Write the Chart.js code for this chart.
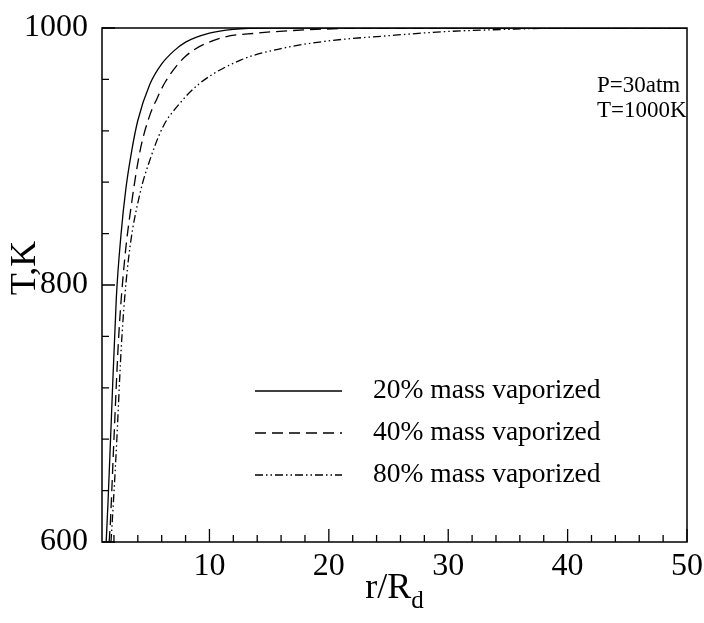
<!DOCTYPE html>
<html>
<head>
<meta charset="utf-8">
<script src="https://cdn.jsdelivr.net/npm/chart.js@4.4.1/dist/chart.umd.min.js"></script>
<style>
  html, body { margin: 0; padding: 0; background: #fff; }
  #wrap { width: 704px; height: 623px; }
</style>
</head>
<body>
<div id="wrap"><canvas id="tempChart"></canvas></div>
<script>
// gas temperature around the droplet, P=30atm, ambient 1000K
const r20 = [1.35, 1.5, 1.8, 2.2, 2.6, 3.0, 3.5, 4.0, 5.0, 6.0, 7.0, 8.0, 10, 12, 15, 20, 30, 40, 50];
const t20 = [600, 630, 700, 790, 840, 875, 905, 928, 956, 972, 982, 989, 996, 999, 1000, 1000, 1000, 1000, 1000];

const r40 = [1.6, 1.7, 2.0, 2.4, 2.9, 3.5, 4.2, 5.0, 5.6, 6.3, 8.0, 10.9, 14, 18, 24, 35, 50];
const t40 = [600, 615, 680, 760, 820, 865, 905, 932, 945, 958, 978, 992, 996, 998.5, 1000, 1000, 1000];

const r80 = [1.75, 1.8, 2.2, 2.6, 2.9, 3.35, 4.2, 5.0, 6.1, 7.3, 9.2, 12.6, 16, 20, 25, 29.4, 35, 40, 50];
const t80 = [600, 607, 672, 749, 790, 830, 872, 897, 923, 939, 957, 975, 984, 990, 994, 997, 999, 1000, 1000];

const seriesLabels = ['20% mass vaporized', '40% mass vaporized', '80% mass vaporized'];
const xTickLabels = [10, 20, 30, 40, 50];
const yTickLabels = [600, 800, 1000];

const SERIF = '"Liberation Serif", "DejaVu Serif", serif';

function toPoints(xs, ys) {
  return xs.map((x, i) => ({ x: x, y: ys[i] }));
}

// frame, inward tick marks, titles, note and legend
const decorations = {
  id: 'decorations',
  afterDraw(chart) {
    const { ctx, chartArea: a, scales: { x, y } } = chart;
    ctx.save();
    ctx.strokeStyle = '#000';
    ctx.lineWidth = 1.5;
    ctx.strokeRect(a.left, a.top, a.right - a.left, a.bottom - a.top);

    ctx.lineWidth = 1.3;
    ctx.beginPath();
    for (let v = 2; v <= 50; v += 2) {
      const px = x.getPixelForValue(v);
      const len = v % 10 === 0 ? 13 : 7;
      ctx.moveTo(px, a.bottom);
      ctx.lineTo(px, a.bottom - len);
    }
    for (let v = 600; v <= 1000; v += 40) {
      const py = y.getPixelForValue(v);
      const len = v % 200 === 0 ? 13 : 7;
      ctx.moveTo(a.left, py);
      ctx.lineTo(a.left + len, py);
    }
    ctx.stroke();

    ctx.fillStyle = '#000';
    // x title with subscript
    ctx.textBaseline = 'alphabetic';
    const main = 'r/R';
    ctx.font = '36px ' + SERIF;
    const wMain = ctx.measureText(main).width;
    ctx.font = '25px ' + SERIF;
    const wSub = ctx.measureText('d').width;
    const cx = (a.left + a.right) / 2;
    const startX = cx - (wMain + wSub) / 2;
    ctx.font = '36px ' + SERIF;
    ctx.textAlign = 'left';
    ctx.fillText(main, startX, 598);
    ctx.font = '25px ' + SERIF;
    ctx.fillText('d', startX + wMain, 608);

    // y title
    ctx.save();
    ctx.translate(26, 268);
    ctx.rotate(-Math.PI / 2);
    ctx.font = '36px ' + SERIF;
    ctx.textAlign = 'center';
    ctx.textBaseline = 'middle';
    ctx.fillText('T,K', 0, 0);
    ctx.restore();

    // conditions note
    ctx.font = '23px ' + SERIF;
    ctx.textAlign = 'left';
    ctx.textBaseline = 'middle';
    ctx.fillText('P=30atm', 597, 86);
    ctx.fillText('T=1000K', 597, 111);

    // legend
    const rows = [391, 433, 475];
    ctx.font = '27.5px ' + SERIF;
    chart.data.datasets.forEach((ds, i) => {
      ctx.beginPath();
      ctx.lineWidth = ds.borderWidth;
      ctx.setLineDash(ds.borderDash || []);
      ctx.moveTo(255, rows[i]);
      ctx.lineTo(342, rows[i]);
      ctx.stroke();
      ctx.setLineDash([]);
      ctx.fillText(seriesLabels[i], 373, rows[i]);
    });
    ctx.restore();
  }
};

const ctx = document.getElementById('tempChart').getContext('2d');
const chart = new Chart(ctx, {
  type: 'line',
  data: {
    datasets: [
      { label: seriesLabels[0], data: toPoints(r20, t20), borderColor: '#000', borderWidth: 1.3, borderDash: [], pointRadius: 0, cubicInterpolationMode: 'monotone' },
      { label: seriesLabels[1], data: toPoints(r40, t40), borderColor: '#000', borderWidth: 1.3, borderDash: [11, 6], pointRadius: 0, cubicInterpolationMode: 'monotone' },
      { label: seriesLabels[2], data: toPoints(r80, t80), borderColor: '#000', borderWidth: 1.3, borderDash: [8, 3, 1.5, 3, 1.5, 3], pointRadius: 0, cubicInterpolationMode: 'monotone' }
    ]
  },
  options: {
    responsive: true,
    maintainAspectRatio: false,
    animation: false,
    devicePixelRatio: 1,
    layout: { padding: { top: 28, right: 17, left: 0, bottom: 0 } },
    plugins: { legend: { display: false }, tooltip: { enabled: false } },
    scales: {
      x: {
        type: 'linear',
        min: 1,
        max: 50,
        grid: { display: false },
        border: { display: false },
        afterBuildTicks: (s) => { s.ticks = xTickLabels.map(v => ({ value: v })); },
        afterFit: (s) => { s.height = 81; },
        ticks: { color: '#000', font: { family: SERIF, size: 32 }, padding: -3, maxRotation: 0, callback: (v) => String(v) }
      },
      y: {
        type: 'linear',
        min: 600,
        max: 1000,
        grid: { display: false },
        border: { display: false },
        afterBuildTicks: (s) => { s.ticks = yTickLabels.map(v => ({ value: v })); },
        afterFit: (s) => { s.width = 102; },
        ticks: { color: '#000', font: { family: SERIF, size: 32 }, padding: 6, callback: (v) => String(v) }
      }
    }
  },
  plugins: [decorations]
});
</script>
</body>
</html>
